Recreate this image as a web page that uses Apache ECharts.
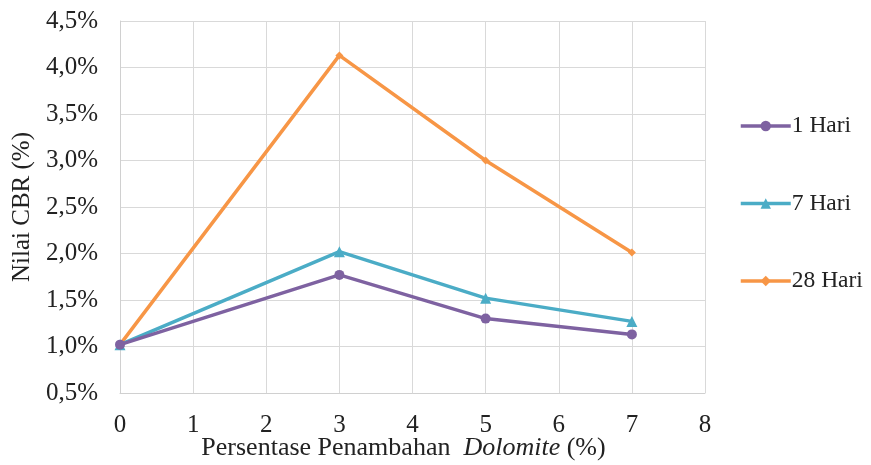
<!DOCTYPE html>
<html><head><meta charset="utf-8">
<script src="https://cdn.jsdelivr.net/npm/echarts@6/dist/echarts.min.js"></script>
<style>html,body{margin:0;padding:0;background:#fff}#c{width:871px;height:465px}</style>
</head><body><div id="c"></div>
<script>
const xValues = [0, 3, 5, 7];
const seriesNames = ['1 Hari', '7 Hari', '28 Hari'];
const hari1 = [1.02, 1.77, 1.30, 1.13];
const hari7 = [1.02, 2.02, 1.52, 1.27];
const hari28 = [1.02, 4.13, 3.00, 2.01];
const colors = ['#7E62A1', '#4BACC6', '#F79646'];
const symbols = ['circle', 'triangle', 'diamond'];
const symbolSizes = [10, 11, 8];

const dataSets = [hari1, hari7, hari28];
const fmt = v => v.toFixed(1).replace('.', ',') + '%';
const font = '"Liberation Serif", "Times New Roman", serif';
const txt = '#222';

const chart = echarts.init(document.getElementById('c'));
chart.setOption({
  animation: false,
  backgroundColor: '#fff',
  textStyle: { fontFamily: font },
  grid: { left: 120, right: 166, top: 21, bottom: 72, containLabel: false, outerBoundsMode: 'none' },
  legend: {
    orient: 'vertical', left: 734, top: 109, itemGap: 53.5,
    itemWidth: 50, itemHeight: 13,
    lineStyle: { width: 3.5 },
    textStyle: { fontFamily: font, fontSize: 23.5, color: txt, padding: [0, 0, 0, -4] },
    data: seriesNames
  },
  xAxis: {
    type: 'value', min: 0, max: 8, interval: 1,
    axisLine: { show: true, lineStyle: { color: '#d0d0d0' } },
    axisTick: { show: false },
    splitLine: { show: true, lineStyle: { color: '#d9d9d9' } },
    axisLabel: { fontSize: 25, color: txt, margin: 20, fontFamily: font },
    name: '{n|Persentase Penambahan  }{i|Dolomite}{n| (%)}',
    nameLocation: 'middle', nameGap: 42, nameMoveOverlap: false,
    nameTextStyle: {
      padding: [0, 18, 0, 0],
      rich: {
        n: { fontSize: 26, lineHeight: 27, color: txt, fontFamily: font },
        i: { fontSize: 26, lineHeight: 27, color: txt, fontFamily: font, fontStyle: 'italic' }
      }
    }
  },
  yAxis: {
    type: 'value', min: 0.5, max: 4.5, interval: 0.5,
    axisLine: { show: true, lineStyle: { color: '#d0d0d0' } },
    axisTick: { show: false },
    splitLine: { show: true, lineStyle: { color: '#d9d9d9' } },
    axisLabel: { fontSize: 25, color: txt, margin: 22, fontFamily: font, formatter: fmt },
    name: 'Nilai CBR (%)', nameLocation: 'middle', nameGap: 85, nameMoveOverlap: false,
    nameTextStyle: { fontSize: 25, color: txt, fontFamily: font }
  },
  series: seriesNames.map((n, k) => ({
    name: n, type: 'line',
    data: xValues.map((x, i) => [x, dataSets[k][i]]),
    symbol: symbols[k], symbolSize: symbolSizes[k],
    lineStyle: { width: 3.5, color: colors[k] },
    itemStyle: { color: colors[k] },
    z: 2 + (2 - k)
  }))
});
</script></body></html>
